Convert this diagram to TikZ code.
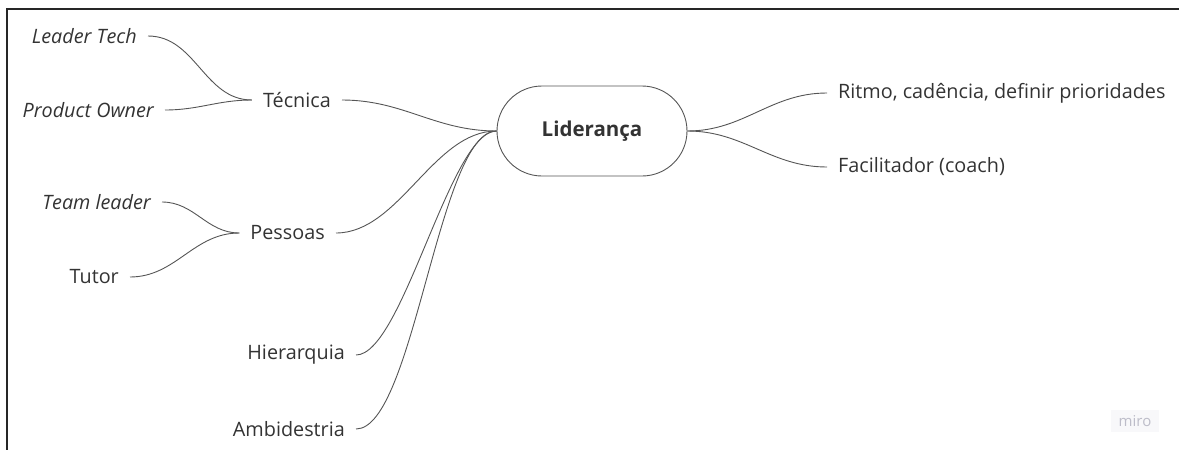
\documentclass[tikz,border=0pt]{standalone}
\usepackage{fontspec}
\setmainfont{Open Sans}
\usepackage{tikz}

\definecolor{inkgray}{HTML}{333333}
\definecolor{linegray}{HTML}{555555}
\definecolor{mirogray}{HTML}{BDBDC9}
\definecolor{mirobg}{HTML}{F8F8FA}

\tikzset{
  topic/.style={text=inkgray, inner xsep=11pt, inner ysep=2pt, font=\fontsize{19.8}{23}\selectfont},
  leaf/.style={topic, font=\fontsize{19.8}{23}\selectfont\itshape},
  root/.style={draw=linegray, line width=0.9pt, rounded corners=45pt, minimum width=190pt,
    minimum height=90pt, text=inkgray, font=\fontsize{20.5}{24}\selectfont\bfseries},
  branch/.style={draw=linegray, line width=0.9pt},
  steep/.style={branch, looseness=0.45}
}

\begin{document}
\begin{tikzpicture}[x=1pt,y=-1pt]
\useasboundingbox (0,0) rectangle (1179,450);
\draw[black!85, line width=2pt] (1179,9) -- (7,9) -- (7,451);

\node[root] (lid) at (592,131) {Liderança};

% left side
\node[topic, anchor=east] (tec) at (342,100) {Técnica};
\node[topic, anchor=east] (pes) at (336,233) {Pessoas};
\node[topic, anchor=east] (hie) at (356,355) {Hierarquia};
\node[topic, anchor=east] (amb) at (356,429) {Ambidestria};

\node[leaf, anchor=east] (lt) at (148,36) {Leader Tech};
\node[leaf, anchor=east] (po) at (165,110) {Product Owner};
\node[leaf, anchor=east] (tl) at (162,202) {Team leader};
\node[topic, anchor=east] (tut) at (130,277) {Tutor};

% right side
\node[topic, anchor=west] (rit) at (827,93) {Ritmo, cadência, definir prioridades};
\node[topic, anchor=west] (fac) at (827,167) {Facilitador (coach)};

\node[fill=mirobg, text=mirogray, inner xsep=8pt, inner ysep=5pt,
  font=\fontsize{15}{17}\selectfont] (miro) at (1135,421) {miro};

\draw[branch] (lid.west) to[out=180,in=0] (tec.east);
\draw[branch] (lid.west) to[out=180,in=0, looseness=0.85] (pes.east);
\draw[steep] (lid.west) to[out=180,in=0] (hie.east);
\draw[steep] (lid.west) to[out=180,in=0] (amb.east);
\draw[branch] (lid.east) to[out=0,in=180] (rit.west);
\draw[branch] (lid.east) to[out=0,in=180] (fac.west);

\draw[branch] (tec.west) to[out=180,in=0] (lt.east);
\draw[branch] (tec.west) to[out=180,in=0] (po.east);
\draw[branch] (pes.west) to[out=180,in=0] (tl.east);
\draw[branch] (pes.west) to[out=180,in=0] (tut.east);
\end{tikzpicture}
\end{document}
